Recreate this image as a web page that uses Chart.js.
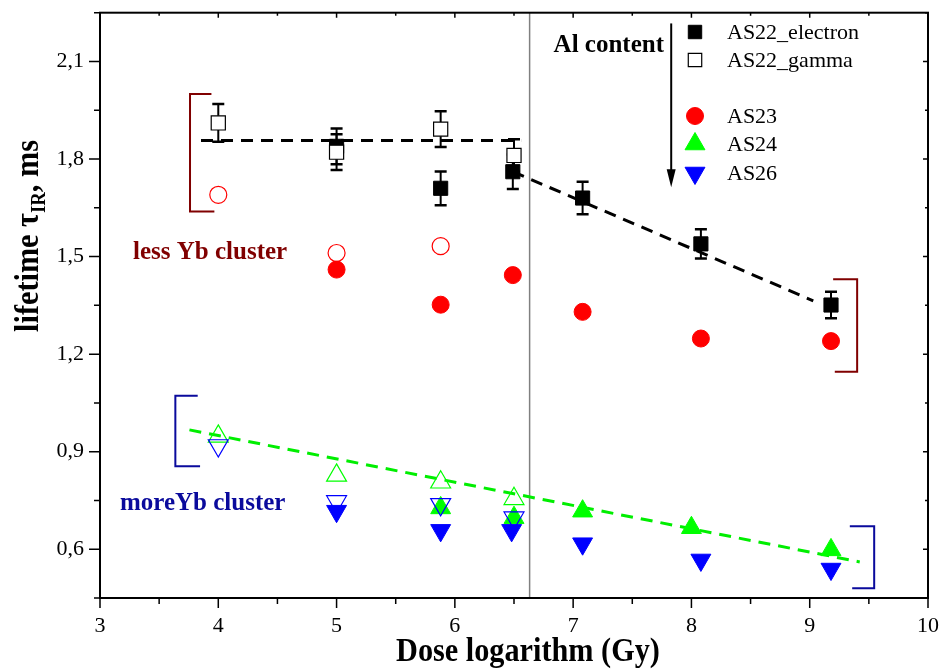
<!DOCTYPE html>
<html>
<head>
<meta charset="utf-8">
<script src="https://cdn.jsdelivr.net/npm/chart.js@4.4.1/dist/chart.umd.min.js"></script>
<style>
  html, body { margin: 0; padding: 0; background: #fff; }
</style>
</head>
<body>
<canvas id="lifetimeChart" width="943" height="670"></canvas>
<script>
// dose logarithm (Gy) and IR lifetime (ms)
const as22ElectronDose = [5.0, 5.88, 6.49, 7.08, 8.08, 9.18];
const as22ElectronTau = [1.839, 1.710, 1.761, 1.680, 1.539, 1.351];
const as22ElectronErr = [0.055, 0.052, 0.053, 0.050, 0.045, 0.041];

const as22GammaDose = [4.0, 5.0, 5.88, 6.5];
const as22GammaTau = [1.911, 1.821, 1.892, 1.811];
const as22GammaErr = [0.058, 0.055, 0.055, 0.050];

const as23OpenDose = [4.0, 5.0, 5.88];
const as23OpenTau = [1.690, 1.511, 1.532];
const as23Dose = [5.0, 5.88, 6.49, 7.08, 8.08, 9.18];
const as23Tau = [1.460, 1.352, 1.443, 1.330, 1.248, 1.240];

const as24OpenDose = [4.0, 5.0, 5.88, 6.5];
const as24OpenTau = [0.947, 0.827, 0.806, 0.755];
const as24Dose = [5.88, 6.5, 7.08, 8.0, 9.18];
const as24Tau = [0.727, 0.697, 0.717, 0.666, 0.598];

const as26OpenDose = [4.0, 5.0, 5.88, 6.5];
const as26OpenTau = [0.919, 0.747, 0.738, 0.697];
const as26Dose = [5.0, 5.88, 6.48, 7.08, 8.08, 9.18];
const as26Tau = [0.717, 0.658, 0.658, 0.617, 0.567, 0.539];

// dashed guide lines
const fitFlatDose = [3.854, 6.56];
const fitFlatTau = [1.857, 1.857];
const fitSlopeDose = [6.49, 9.03];
const fitSlopeTau = [1.761, 1.364];
const fitGreenDose = [3.756, 9.423];
const fitGreenTau = [0.967, 0.561];

const splitDose = 6.632;

const FONT = "'Liberation Serif', 'Times New Roman', serif";
const MAROON = '#800000';
const NAVY = '#0a0a9c';

// brackets in data units: vertical at x, from y1 to y2, arms reach to a1/a2
const brackets = [
  { x: 3.761, y1: 2.000, y2: 1.639, a1: 3.942, a2: 3.967, color: MAROON },
  { x: 9.401, y1: 1.430, y2: 1.146, a1: 9.198, a2: 9.212, color: MAROON },
  { x: 3.637, y1: 1.072, y2: 0.855, a1: 3.826, a2: 3.846, color: NAVY },
  { x: 9.545, y1: 0.671, y2: 0.480, a1: 9.339, a2: 9.359, color: NAVY }
];

const pts = (xs, ys) => xs.map((v, i) => ({ x: v, y: ys[i] }));

const fitLine = (xs, ys, color) => ({
  data: pts(xs, ys), showLine: true, pointRadius: 0, borderColor: color,
  borderWidth: 3, borderDash: [12, 8], fill: false
});

const datasets = [
  fitLine(fitFlatDose, fitFlatTau, '#000'),
  fitLine(fitSlopeDose, fitSlopeTau, '#000'),
  fitLine(fitGreenDose, fitGreenTau, '#00ee00'),
  { label: 'AS22_electron', data: pts(as22ElectronDose, as22ElectronTau), pointStyle: 'rect',
    pointRadius: 10, backgroundColor: '#000', borderColor: '#000', borderWidth: 1 },
  { label: 'AS22_gamma', data: pts(as22GammaDose, as22GammaTau), pointStyle: 'rect',
    pointRadius: 10, backgroundColor: '#fff', borderColor: '#000', borderWidth: 1.2 },
  { label: 'AS23 open', data: pts(as23OpenDose, as23OpenTau), pointStyle: 'circle',
    pointRadius: 8.5, backgroundColor: 'rgba(0,0,0,0)', borderColor: '#ff0000', borderWidth: 1.2 },
  { label: 'AS23', data: pts(as23Dose, as23Tau), pointStyle: 'circle',
    pointRadius: 8.5, backgroundColor: '#ff0000', borderColor: '#ff0000', borderWidth: 1 },
  { label: 'AS24 open', data: pts(as24OpenDose, as24OpenTau), pointStyle: 'triangle',
    pointRadius: 11.5, backgroundColor: 'rgba(0,0,0,0)', borderColor: '#00ff00', borderWidth: 1.2 },
  { label: 'AS24', data: pts(as24Dose, as24Tau), pointStyle: 'triangle',
    pointRadius: 11.5, backgroundColor: '#00ff00', borderColor: '#00ff00', borderWidth: 1 },
  { label: 'AS26 open', data: pts(as26OpenDose, as26OpenTau), pointStyle: 'triangle', pointRotation: 180,
    pointRadius: 11.5, backgroundColor: 'rgba(0,0,0,0)', borderColor: '#0000ff', borderWidth: 1.2 },
  { label: 'AS26', data: pts(as26Dose, as26Tau), pointStyle: 'triangle', pointRotation: 180,
    pointRadius: 11.5, backgroundColor: '#0000ff', borderColor: '#0000ff', borderWidth: 1 }
];
// later datasets on top
datasets.forEach((d, i) => { d.order = datasets.length - i; });

const errorSets = [
  { dose: as22ElectronDose, tau: as22ElectronTau, err: as22ElectronErr },
  { dose: as22GammaDose, tau: as22GammaTau, err: as22GammaErr }
];

// legend rows: dataset index, label, y pixel
const legendRows = [
  [3, 'AS22_electron', 32],
  [4, 'AS22_gamma', 60],
  [6, 'AS23', 116],
  [8, 'AS24', 144],
  [10, 'AS26', 173]
];

const decor = {
  id: 'decor',
  beforeDatasetsDraw(chart) {
    const { ctx, chartArea: a, scales: { x, y } } = chart;
    ctx.save();
    // separator line
    const vx = x.getPixelForValue(splitDose);
    ctx.strokeStyle = '#808080';
    ctx.lineWidth = 1.5;
    ctx.beginPath(); ctx.moveTo(vx, a.top); ctx.lineTo(vx, a.bottom); ctx.stroke();

    // brackets
    ctx.lineWidth = 2;
    brackets.forEach(b => {
      const bx = x.getPixelForValue(b.x);
      const t = y.getPixelForValue(b.y1), btm = y.getPixelForValue(b.y2);
      ctx.strokeStyle = b.color;
      ctx.beginPath();
      ctx.moveTo(x.getPixelForValue(b.a1), t);
      ctx.lineTo(bx, t);
      ctx.lineTo(bx, btm);
      ctx.lineTo(x.getPixelForValue(b.a2), btm);
      ctx.stroke();
    });

    // error bars
    ctx.strokeStyle = '#000';
    errorSets.forEach(s => {
      s.dose.forEach((d, i) => {
        const cx = x.getPixelForValue(d);
        const y1 = y.getPixelForValue(s.tau[i] + s.err[i]);
        const y2 = y.getPixelForValue(s.tau[i] - s.err[i]);
        ctx.lineWidth = 2;
        ctx.beginPath(); ctx.moveTo(cx, y1); ctx.lineTo(cx, y2); ctx.stroke();
        ctx.lineWidth = 2.5;
        ctx.beginPath();
        ctx.moveTo(cx - 6, y1); ctx.lineTo(cx + 6, y1);
        ctx.moveTo(cx - 6, y2); ctx.lineTo(cx + 6, y2);
        ctx.stroke();
      });
    });
    ctx.restore();
  },
  afterDatasetsDraw(chart) {
    const { ctx, chartArea: a, scales: { x, y } } = chart;
    ctx.save();
    // frame
    ctx.strokeStyle = '#000';
    ctx.lineWidth = 2;
    ctx.strokeRect(a.left, a.top, a.right - a.left, a.bottom - a.top);

    // tick marks
    ctx.lineWidth = 1.5;
    ctx.beginPath();
    x.ticks.forEach(t => {
      const p = x.getPixelForValue(t.value);
      const major = Number.isInteger(t.value);
      ctx.moveTo(p, a.bottom); ctx.lineTo(p, a.bottom + (major ? 10 : 6));
      ctx.moveTo(p, a.top); ctx.lineTo(p, a.top + (major ? 5 : 3));
    });
    y.ticks.forEach(t => {
      const p = y.getPixelForValue(t.value);
      const major = Math.round(t.value * 100) % 30 === 0;
      ctx.moveTo(a.left, p); ctx.lineTo(a.left - (major ? 11 : 6), p);
      ctx.moveTo(a.right, p); ctx.lineTo(a.right - (major ? 5 : 3), p);
    });
    ctx.stroke();

    // axis titles (tall, slightly condensed bold serif)
    const squeeze = 0.89;
    ctx.fillStyle = '#000';
    ctx.font = 'bold 34px ' + FONT;
    ctx.textAlign = 'center';
    ctx.textBaseline = 'alphabetic';
    ctx.save();
    ctx.translate(528, 661);
    ctx.scale(squeeze, 1);
    ctx.fillText('Dose logarithm (Gy)', 0, 0);
    ctx.restore();

    ctx.save();
    ctx.translate(38, 236);
    ctx.rotate(-Math.PI / 2);
    ctx.scale(squeeze, 1);
    const partA = 'lifetime \u03c4', partB = 'IR', partC = ', ms';
    ctx.font = 'bold 34px ' + FONT;
    const wA = ctx.measureText(partA).width, wC = ctx.measureText(partC).width;
    ctx.font = 'bold 21px ' + FONT;
    const wB = ctx.measureText(partB).width;
    let sx = -(wA + wB + wC) / 2;
    ctx.textAlign = 'left';
    ctx.font = 'bold 34px ' + FONT;
    ctx.fillText(partA, sx, 0); sx += wA;
    ctx.font = 'bold 21px ' + FONT;
    ctx.fillText(partB, sx, 7); sx += wB;
    ctx.font = 'bold 34px ' + FONT;
    ctx.fillText(partC, sx, 0);
    ctx.restore();

    // annotations
    ctx.font = 'bold 25px ' + FONT;
    ctx.textAlign = 'left';
    ctx.fillStyle = MAROON;
    ctx.fillText('less Yb cluster', 133, 259);
    ctx.fillStyle = NAVY;
    ctx.fillText('moreYb cluster', 120, 510);
    ctx.fillStyle = '#000';
    ctx.textAlign = 'right';
    ctx.fillText('Al content', 664, 52);

    // Al content arrow
    const ax = x.getPixelForValue(7.829);
    const aTop = y.getPixelForValue(2.217), aTip = y.getPixelForValue(1.713);
    ctx.strokeStyle = '#000';
    ctx.lineWidth = 2;
    ctx.beginPath(); ctx.moveTo(ax, aTop); ctx.lineTo(ax, aTip - 12); ctx.stroke();
    ctx.beginPath();
    ctx.moveTo(ax, aTip); ctx.lineTo(ax - 4.5, aTip - 18); ctx.lineTo(ax + 4.5, aTip - 18);
    ctx.closePath(); ctx.fill();

    // legend
    ctx.font = '22px ' + FONT;
    ctx.textAlign = 'left';
    ctx.textBaseline = 'middle';
    legendRows.forEach(([idx, label, ly]) => {
      const ds = datasets[idx];
      ctx.fillStyle = ds.backgroundColor;
      ctx.strokeStyle = ds.borderColor;
      ctx.lineWidth = ds.borderWidth;
      Chart.helpers.drawPoint(ctx, {
        pointStyle: ds.pointStyle, rotation: ds.pointRotation || 0,
        radius: ds.pointStyle === 'rect' ? 9.5 : ds.pointRadius, borderWidth: ds.borderWidth
      }, 695, ly);
      ctx.fillStyle = '#000';
      ctx.fillText(label, 727, ly + 1);
    });
    ctx.restore();
  }
};

new Chart(document.getElementById('lifetimeChart'), {
  type: 'scatter',
  data: { datasets },
  options: {
    responsive: false,
    animation: false,
    events: [],
    layout: { padding: { left: 0, top: 10, right: 15, bottom: 0 } },
    plugins: { legend: { display: false }, tooltip: { enabled: false } },
    scales: {
      x: {
        type: 'linear', min: 3, max: 10,
        grid: { display: false, drawTicks: false },
        border: { display: false },
        ticks: {
          stepSize: 0.5, autoSkip: false, maxRotation: 0, padding: 15, color: '#000',
          font: { family: FONT, size: 22 },
          callback: v => Number.isInteger(v) ? String(v) : ''
        },
        afterFit: s => { s.height = 72; s.paddingLeft = 0; s.paddingRight = 0; }
      },
      y: {
        type: 'linear', min: 0.45, max: 2.25,
        grid: { display: false, drawTicks: false },
        border: { display: false },
        ticks: {
          stepSize: 0.15, autoSkip: false, padding: 16, color: '#000',
          font: { family: FONT, size: 22 },
          callback: v => {
            const k = Math.round(v * 100);
            return k % 30 === 0 ? (k / 100).toFixed(1).replace('.', ',') : '';
          }
        },
        afterFit: s => { s.width = 100; s.paddingTop = 0; s.paddingBottom = 0; }
      }
    }
  },
  plugins: [decor]
});
</script>
</body>
</html>
